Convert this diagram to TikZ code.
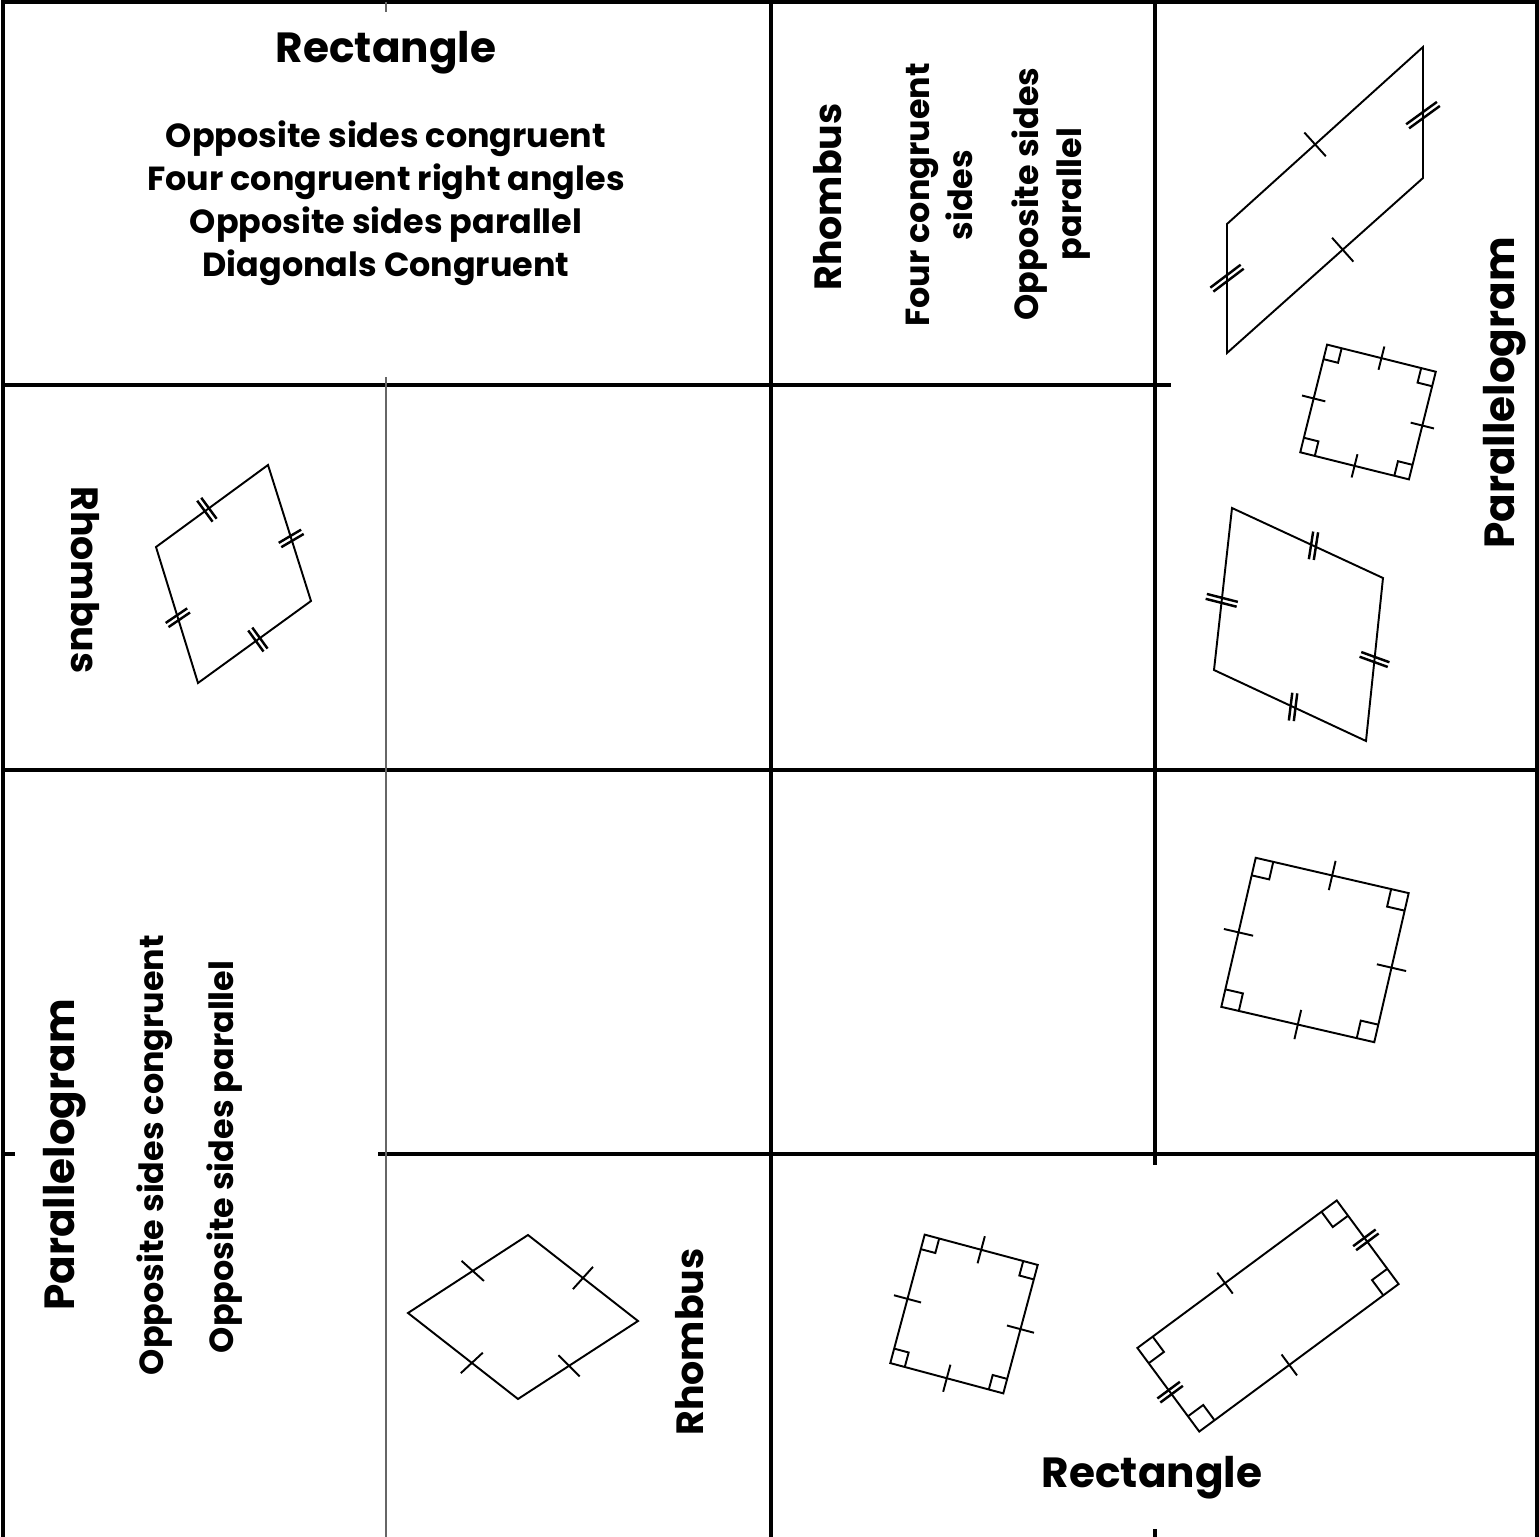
\documentclass[tikz,border=0pt]{standalone}
\usepackage{fontspec}
\setmainfont{Poppins}
\usetikzlibrary{positioning,decorations.markings}

\tikzset{
  grid/.style={line width=0.9pt},
  fold/.style={line width=0.55pt,black!60},
  shp/.style={line width=0.55pt,line join=miter},
  head/.style={font=\fontsize{12}{14}\selectfont\bfseries,inner sep=0pt},
  sub/.style={font=\fontsize{10.8}{13}\selectfont\bfseries,inner sep=0pt},
  body/.style={font=\fontsize{9.5}{12.2}\selectfont\bfseries,align=center,inner sep=0pt},
  onetick/.style n args={3}{postaction={decorate,decoration={markings,
      mark=at position #1 with {\draw[shp,rotate=#2] (0,-#3) -- (0,#3);}}}},
  twotick/.style n args={3}{postaction={decorate,decoration={markings,
      mark=at position #1 with {\draw[shp,line width=0.7pt,rotate=#2]
        (-2.5,-#3) -- (-2.5,#3) (2.5,-#3) -- (2.5,#3);}}}},
}
% box with a right-angle mark in each corner, round the origin
\newcommand{\rtbox}[3]{%
  \draw[shp] (-#1/2,-#2/2) rectangle (#1/2,#2/2);
  \foreach \sx/\sy in {1/1,1/-1,-1/-1,-1/1}
    \draw[shp,xscale=\sx,yscale=\sy] (#1/2-#3,#2/2) -- (#1/2-#3,#2/2-#3) -- (#1/2,#2/2-#3);}

\begin{document}
\begin{tikzpicture}[x=0.1mm,y=-0.1mm]
  \useasboundingbox (0,0) rectangle (1539,1537);

  % cut lines
  \draw[grid] (3,1537) -- (3,2) -- (1537,2) -- (1537,1537);
  \foreach \xa/\ya/\xb/\yb in {771/2/771/1537, 1155/2/1155/1165, 1155/1529/1155/1537,
      3/385/1171/385, 3/770/1537/770, 3/1154/15/1154, 378/1154/1537/1154}
    \draw[grid] (\xa,\ya) -- (\xb,\yb);
  \foreach \ya/\yb in {2/12, 377/1537}
    \draw[fold] (386,\ya) -- (386,\yb);

  % labels
  \node[head] (rectT) at (386,53) {Rectangle};
  \node[body] (rectTx) at (386,203) {Opposite sides congruent\\Four congruent right angles\\
    Opposite sides parallel\\Diagonals Congruent};
  \node[sub,rotate=90] (rhoT) at (828,197) {Rhombus};
  \node[body,rotate=90] (rhoTa) at (939,195) {Four congruent\\sides};
  \node[body,rotate=90] (rhoTb) at (1051,194) {Opposite sides\\parallel};
  \node[head,rotate=90] (parR) at (1505,393) {Parallelogram};
  \node[sub,rotate=-90] (rhoL) at (85,580) {Rhombus};
  \node[head,rotate=90] (parL) at (65,1155) {Parallelogram};
  \node[body,rotate=90] (parLa) at (155,1155) {Opposite sides congruent};
  \node[body,rotate=90] (parLb) at (225,1157) {Opposite sides parallel};
  \node[sub,rotate=90] (rhoB) at (690,1342) {Rhombus};
  \node[head] (rectB) at (1152,1478) {Rectangle};

  % parallelogram, top right
  \path (1227,224) coordinate (pa) (1423,47) coordinate (pb)
        (1423,178) coordinate (pc) (1227,353) coordinate (pd);
  \draw[shp] (pa) -- (pb) -- (pc) -- (pd) -- cycle;
  \path[onetick={.45}{0}{16}] (pa) -- (pb);
  \path[twotick={.52}{36}{19}] (pb) -- (pc);
  \path[onetick={.41}{0}{16}] (pc) -- (pd);
  \path[twotick={.58}{37}{19}] (pd) -- (pa);

  % rhombus, right column
  \path (1232,508) coordinate (ra) (1383,578) coordinate (rb)
        (1366,741) coordinate (rc) (1214,670) coordinate (rd);
  \draw[shp] (ra) -- (rb) -- (rc) -- (rd) -- cycle;
  \path[twotick={.54}{16}{14}] (ra) -- (rb);
  \path[twotick={.50}{-14}{15}] (rb) -- (rc);
  \path[twotick={.48}{18}{14}] (rc) -- (rd);
  \path[twotick={.43}{-8}{16}] (rd) -- (ra);

  % rhombus, left
  \path (268,465) coordinate (la) (311,601) coordinate (lb)
        (198,683) coordinate (lc) (156,547) coordinate (ld);
  \draw[shp] (la) -- (lb) -- (lc) -- (ld) -- cycle;
  \path[twotick={.54}{13}{13}] (la) -- (lb);
  \path[twotick={.47}{0}{13}] (lb) -- (lc);
  \path[twotick={.48}{17}{13}] (lc) -- (ld);
  \path[twotick={.455}{0}{13}] (ld) -- (la);

  % rhombus, bottom
  \path (528,1235) coordinate (ba) (638,1321) coordinate (bb)
        (518,1399) coordinate (bc) (408,1313) coordinate (bd);
  \draw[shp] (ba) -- (bb) -- (bc) -- (bd) -- cycle;
  \path[onetick={.5}{-4}{15}] (ba) -- (bb);
  \path[onetick={.575}{12}{15}] (bb) -- (bc);
  \path[onetick={.42}{-9}{15}] (bc) -- (bd);
  \path[onetick={.54}{15}{15}] (bd) -- (ba);

  % squares
  \begin{scope}[shift={(1368,412)},rotate=-14]
    \rtbox{112}{111}{15}
    \foreach \s in {1,-1}
      \draw[shp,scale=\s] (0,55.5-12) -- (0,55.5+12) (56-12,0) -- (56+12,0);
  \end{scope}
  \begin{scope}[shift={(1315,950)},rotate=-13]
    \rtbox{157}{153}{18}
    \foreach \s in {1,-1}
      \draw[shp,scale=\s] (0,76.5-15) -- (0,76.5+15) (78.5-15,0) -- (78.5+15,0);
  \end{scope}
  \begin{scope}[shift={(964,1314)},rotate=-15]
    \rtbox{117}{133}{15}
    \foreach \s in {1,-1}
      \draw[shp,scale=\s] (0,66.5-14) -- (0,66.5+14) (58.5-14,0) -- (58.5+14,0);
  \end{scope}

  % rectangle, bottom right
  \begin{scope}[shift={(1268,1316)},rotate=36.5]
    \rtbox{248}{104}{19}
    \draw[shp] (-15,-52-13) -- (-15,-52+13) (-12,52-13) -- (-12,52+13);
    \foreach \s in {1,-1}
      \draw[shp,line width=0.7pt,scale=\s] (124-14,-5.5) -- (124+14,-5.5) (124-14,-0.5) -- (124+14,-0.5);
  \end{scope}
\end{tikzpicture}
\end{document}
